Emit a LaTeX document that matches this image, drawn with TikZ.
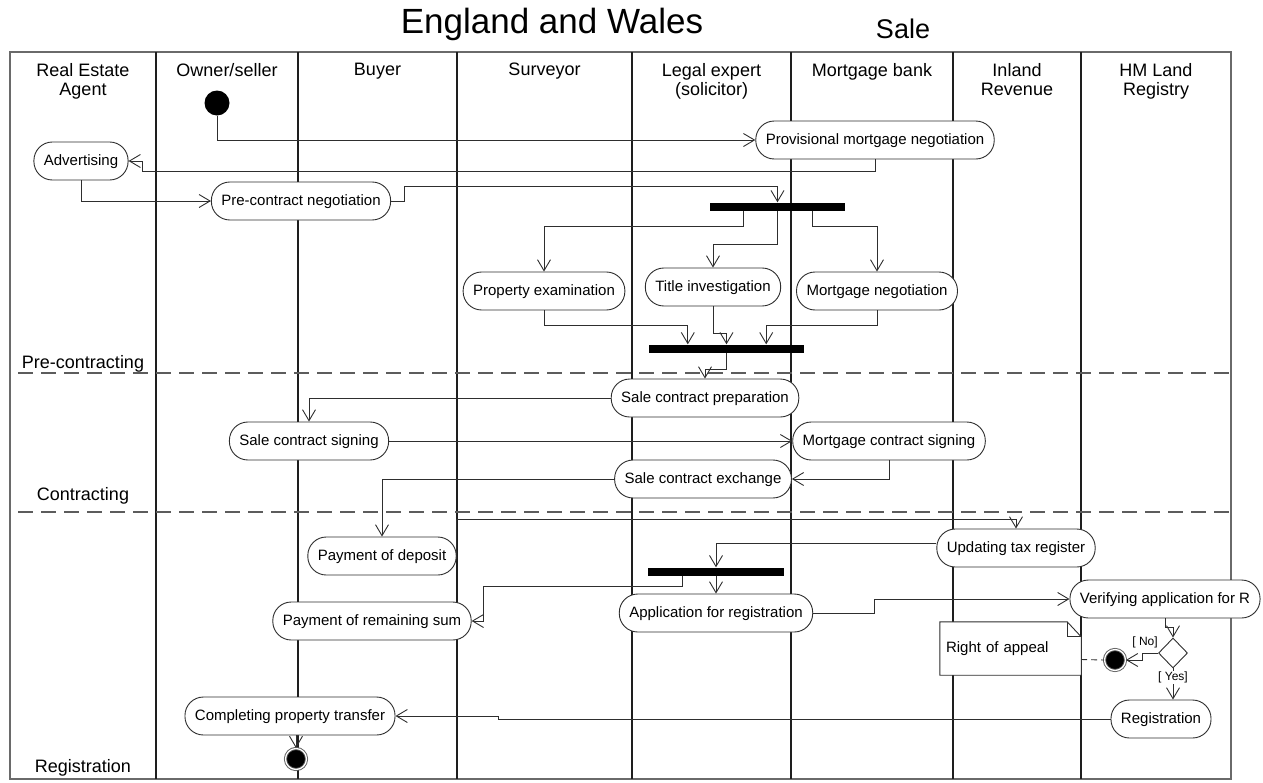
\documentclass[tikz,border=0pt]{standalone}
\usepackage{fontspec}
\setmainfont{Liberation Sans}
\usetikzlibrary{arrows.meta,calc,shapes.geometric}
\pgfdeclarelayer{background}
\pgfdeclarelayer{mid}
\pgfsetlayers{background,mid,main}
\definecolor{ink}{HTML}{2E2E2E}
\definecolor{lanec}{HTML}{1E1E1E}
\definecolor{framec}{HTML}{6A6A6A}
\definecolor{dashc}{HTML}{5C5C5C}

\begin{document}
\begin{tikzpicture}[x=1pt,y=-1pt,
  act/.style={draw=ink, line width=0.9pt, fill=white, rectangle,
    rounded corners=18.5pt, minimum height=38pt, inner xsep=10pt, inner ysep=0pt,
    text height=11pt, text depth=3pt, font=\fontsize{15}{18}\selectfont},
  syncbar/.style={fill=black, inner sep=0pt, minimum height=8pt},
  startdot/.style={circle, fill=black, inner sep=0pt, minimum size=25pt},
  enddot/.style={circle, fill=black, draw=black!65, double=white, double distance=1.3pt,
    line width=0.9pt, inner sep=0pt, minimum size=21pt},
  choice/.style={diamond, draw=ink, line width=0.9pt, fill=white, aspect=1,
    inner sep=0pt, minimum width=29pt, minimum height=30pt},
  flow/.style={draw=ink, line width=0.9pt, -{Straight Barb[length=11pt,width=13pt]}},
  header/.style={font=\fontsize{18}{19.5}\selectfont, align=center, anchor=north, inner sep=0pt},
  phase/.style={font=\fontsize{18}{20}\selectfont, anchor=base, inner sep=0pt},
  guard/.style={font=\fontsize{12}{14}\selectfont, inner sep=1pt},
  lane/.style={draw=lanec, line width=1.5pt},
  separator/.style={draw=dashc, line width=1.8pt, dash pattern=on 15pt off 8pt, dash phase=15pt},
  notebox/.style={draw=ink, line width=0.9pt, fill=white}
]
\useasboundingbox (0,0) rectangle (1263,782);

% titles
\node[font=\fontsize{35}{40}\selectfont, anchor=base, inner sep=0pt] (title) at (552,33) {England and Wales};
\node[font=\fontsize{27}{30}\selectfont, anchor=base, inner sep=0pt] (sale) at (903,38) {Sale};

% swimlane headers
\node[header] (hAgent)  at (83,63)    {Real Estate\\Agent};
\node[header] (hOwner)  at (227,63)   {Owner/seller};
\node[header] (hBuyer)  at (377.5,63) {Buyer};
\node[header] (hSurv)   at (544.5,63) {Surveyor};
\node[header] (hLegal)  at (711.5,63) {Legal expert\\(solicitor)};
\node[header] (hBank)   at (872,63)   {Mortgage bank};
\node[header] (hRev)    at (1017,63)  {Inland\\Revenue};
\node[header] (hReg)    at (1156,63)  {HM Land\\Registry};

% phase labels
\node[phase] (pPre) at (83,368) {Pre-contracting};
\node[phase] (pCon) at (83,500) {Contracting};
\node[phase] (pReg) at (83,772) {Registration};

% frame, lanes and phase separators
\begin{pgfonlayer}{background}
  \draw[draw=framec, line width=2pt] (10,52) rectangle (1231,779);
  \foreach \lx in {156,298,457,632,791,953,1081}
    \draw[lane] (\lx,52) -- (\lx,779);
  \draw[separator] (10,373) -- (1231,373);
  \draw[separator] (10,512) -- (1231,512);
\end{pgfonlayer}

% activities
\node[startdot] (init) at (217,103) {};
\node[act] (prov)   at (875,140) {Provisional mortgage negotiation};
\node[act] (adv)    at (81,161)  {Advertising};
\node[act] (precon) at (301,201) {Pre-contract negotiation};
\node[syncbar, minimum width=135pt] (bar1) at (777.5,206.5) {};
\node[act] (propex)  at (544,291) {Property examination};
\node[act] (titleinv) at (713,287) {Title investigation};
\node[act] (mortneg) at (877,291) {Mortgage negotiation};
\node[syncbar, minimum width=155pt] (bar2) at (726.5,348.5) {};
\node[act] (prep)     at (705,398) {Sale contract preparation};
\node[act] (sign)     at (309,441) {Sale contract signing};
\node[act] (mortsign) at (889,441) {Mortgage contract signing};
\node[act] (exch)     at (703,479) {Sale contract exchange};
\node[act] (deposit)  at (382,556) {Payment of deposit};
\node[act] (tax)      at (1016,548) {Updating tax register};
\node[syncbar, minimum width=136pt] (bar3) at (716,571.5) {};
\node[act] (payrem)   at (372,621) {Payment of remaining sum};
\node[act] (appl)     at (716,613) {Application for registration};
\node[act] (verify)   at (1165,599) {Verifying application for R};
\node[choice] (dec)   at (1173,653) {};
\node[enddot] (endR)  at (1115,660) {};
\node[act] (reg)      at (1161,719) {Registration};
\node[act] (compl)    at (290,716) {Completing property transfer};
\node[enddot] (endB)  at (296,759) {};

% note with folded corner
\node[minimum width=141pt, minimum height=53pt, inner xsep=6pt, text width=129pt,
      align=left, font=\fontsize{15}{18}\selectfont] (appeal) at (1010.5,648.5) {Right of appeal};
\begin{pgfonlayer}{mid}
  \draw[notebox] (appeal.north west) -- ($(appeal.north east)+(-14,0)$)
    -- ($(appeal.north east)+(0,15)$) -- (appeal.south east) -- (appeal.south west) -- cycle;
  \draw[notebox, fill=none] ($(appeal.north east)+(-14,0)$) -- ($(appeal.north east)+(-14,15)$)
    -- ($(appeal.north east)+(0,15)$);
\end{pgfonlayer}

% control flow
\draw[flow] (init.south) |- (prov.west);
\draw[flow] (prov.south) -- ++(0,12) -| ($(adv.east)+(14,0)$) -- (adv.east);
\draw[flow] (adv.south) |- (precon.west);
\draw[flow] (precon.east) -- ++(13,0) |- ($(bar1.north)+(0,-16)$) -- (bar1.north);
\draw[flow] ($(bar1.south west)+(34,0)$) -- ++(0,16) -| (propex.north);
\draw[flow] (bar1.south) -- ++(0,34) -| (titleinv.north);
\draw[flow] ($(bar1.south east)+(-33,0)$) -- ++(0,16) -| (mortneg.north);
\draw[flow] (propex.south) -- ++(0,15) -| ($(bar2.north west)+(39,0)$);
\draw[flow] (titleinv.south) -- ++(0,27) -| (bar2.north);
\draw[flow] (mortneg.south) -- ++(0,15) -| ($(bar2.north east)+(-38,0)$);
\draw[flow] (bar2.south) -- ++(0,17) -| (prep.north);
\draw[flow] (prep.west) -| (sign.north);
\draw[flow] (sign.east) -- (mortsign.west);
\draw[flow] (mortsign.south) |- (exch.east);
\draw[flow] (exch.west) -| (deposit.north);
\draw[flow] (deposit.east) -- ++(0,-37) -| (tax.north);
\draw[flow] ($(tax.west)+(0,-5)$) -| (bar3.north);
\draw[flow] (bar3.south) -- (appl.north);
\draw[flow] ($(bar3.south west)+(35,0)$) -- ++(0,11) -| ($(payrem.east)+(12,0)$) -- (payrem.east);
\draw[flow] (appl.east) -- ++(61,0) |- (verify.west);
\draw[flow] (verify.south) -- ++(0,9) -| (dec.north);
\draw[flow] (dec.west) -- ++(-16,0) |- (endR.east);
\node[guard] (lblNo) at (1145,642) {[ No]};
\draw[flow] (dec.south) -- (dec.south |- reg.north)
  node[guard, fill=white, pos=0.3] (lblYes) {[ Yes]};
\draw[flow] (reg.west) -- ++(-612,0) |- (compl.east);
\draw[flow] (endB.north |- compl.south) -- (endB.north);
\draw[draw=ink, line width=0.9pt, dash pattern=on 6pt off 4pt]
  ($(appeal.east)+(0,11)$) -- (endR.west);
\end{tikzpicture}
\end{document}
